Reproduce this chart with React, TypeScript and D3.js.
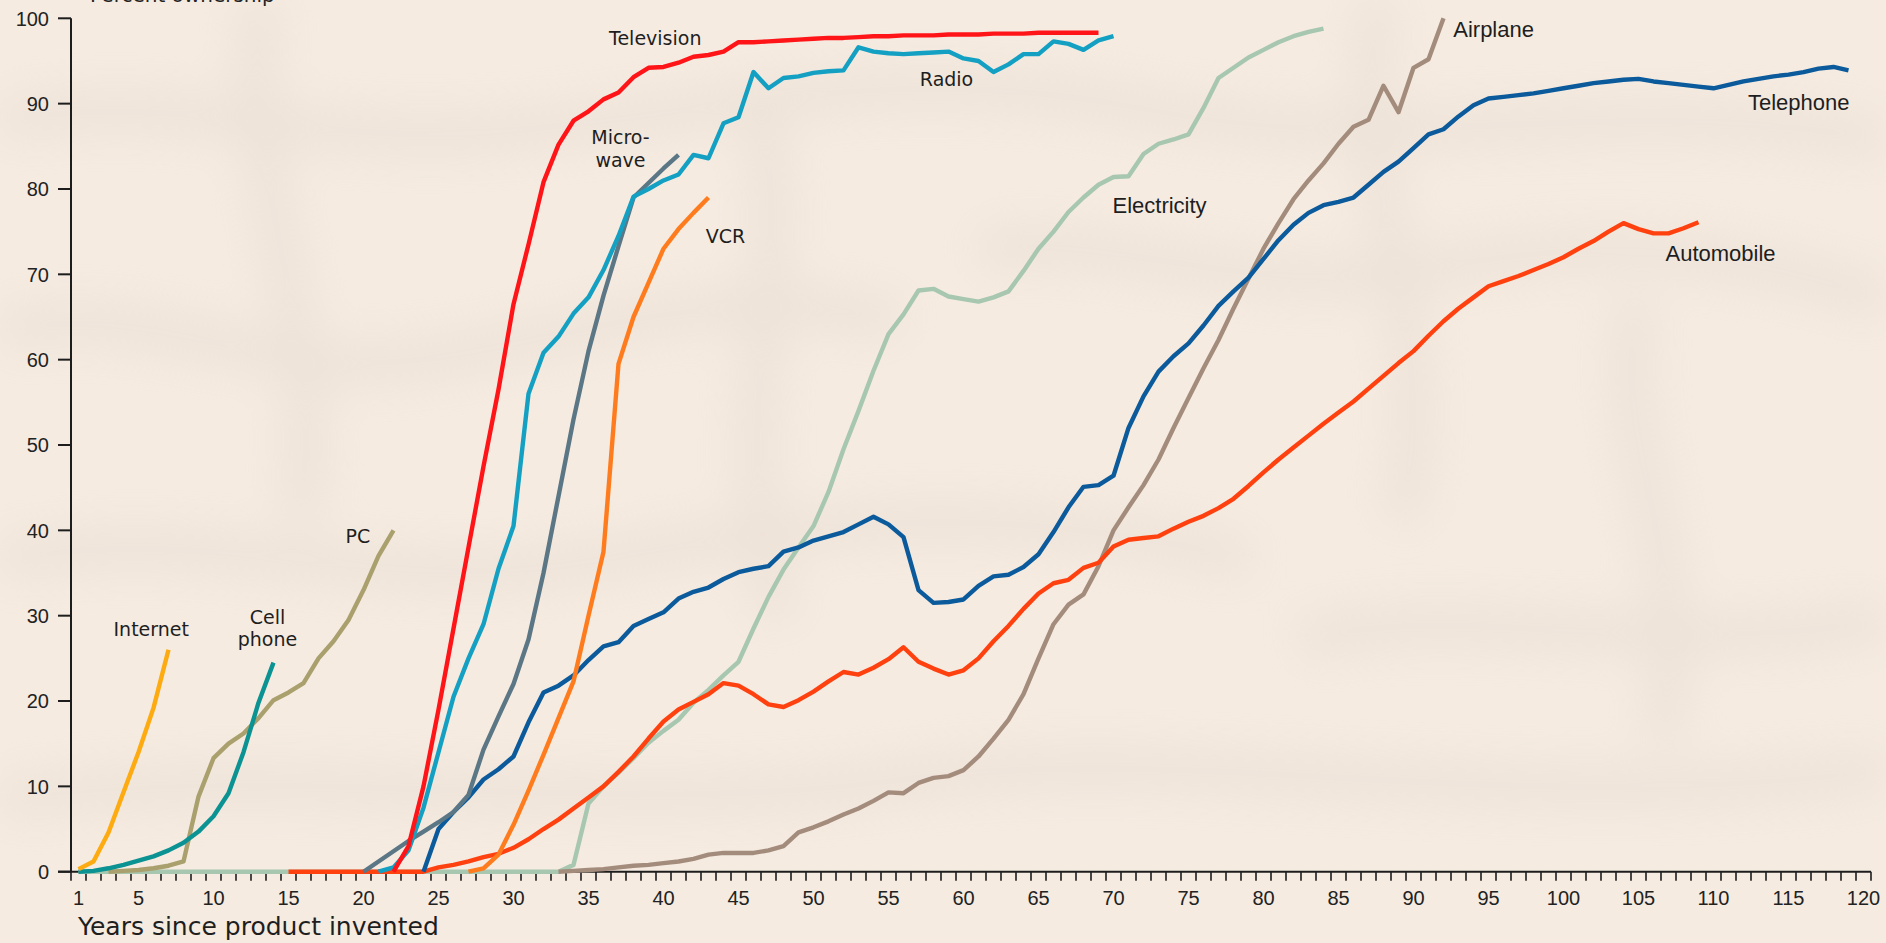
import React from 'react';
import * as d3 from 'd3';

// ---------- data (percent ownership by years since invention) ----------
const X_TICK_LABELS = [1, 5, 10, 15, 20, 25, 30, 35, 40, 45, 50, 55, 60, 65, 70, 75, 80, 85, 90, 95, 100, 105, 110, 115, 120];
const Y_TICKS = [0, 10, 20, 30, 40, 50, 60, 70, 80, 90, 100];

const INTERNET_START = 1;
const INTERNET = [0.3, 1.2, 4.6, 9.3, 14, 19.2, 26];

const CELL_START = 1;
const CELL = [0, 0.1, 0.4, 0.8, 1.3, 1.8, 2.5, 3.4, 4.7, 6.5, 9.2, 14, 19.8, 24.5];

const PC_START = 3;
const PC = [0, 0.1, 0.2, 0.4, 0.7, 1.2, 8.8, 13.3, 15, 16.2, 18, 20.1, 21, 22.1, 25, 27, 29.5, 33, 37, 40];

const TV_START = 22;
const TV = [0, 3, 10, 19, 28.5, 38, 47.5, 56.5, 66.5, 73.5, 80.8, 85.2, 88, 89.1, 90.5, 91.3, 93.1, 94.2, 94.3, 94.8,
  95.5, 95.7, 96.1, 97.2, 97.2, 97.3, 97.4, 97.5, 97.6, 97.7, 97.7, 97.8, 97.9, 97.9, 98, 98, 98, 98.1, 98.1, 98.1,
  98.2, 98.2, 98.2, 98.3, 98.3, 98.3, 98.3, 98.3];

const RADIO_START = 21;
const RADIO = [0, 0.5, 2.5, 7.5, 14, 20.5, 25, 29, 35.5, 40.5, 56, 60.8, 62.7, 65.4, 67.3, 70.5, 74.5, 79.1, 80, 81,
  81.7, 84, 83.6, 87.7, 88.4, 93.7, 91.8, 93, 93.2, 93.6, 93.8, 93.9, 96.6, 96.1, 95.9, 95.8, 95.9, 96, 96.1, 95.3,
  95, 93.7, 94.6, 95.8, 95.8, 97.3, 97, 96.3, 97.4, 97.9];

const MICROWAVE_START = 20;
const MICROWAVE = [0, 1.2, 2.4, 3.6, 4.7, 5.8, 7, 9, 14.3, 18.2, 22, 27.2, 35, 44, 53, 61, 67.5, 73.3, 79, 80.7, 82.4, 84];

const VCR_START = 27;
const VCR = [0, 0.4, 2, 5.5, 9.5, 13.7, 18, 22.3, 30, 37.5, 59.5, 65, 69, 73, 75.3, 77.2, 79];

const TELEPHONE_START = 24;
const TELEPHONE = [0, 5, 7, 8.7, 10.8, 12, 13.5, 17.5, 21, 21.8, 23, 24.8, 26.4, 26.9, 28.8, 29.6, 30.4, 32, 32.8, 33.3,
  34.3, 35.1, 35.5, 35.8, 37.5, 38, 38.8, 39.3, 39.8, 40.7, 41.6, 40.7, 39.2, 33, 31.5, 31.6, 31.9, 33.5, 34.6, 34.8,
  35.7, 37.2, 39.8, 42.7, 45.1, 45.3, 46.4, 52, 55.7, 58.6, 60.4, 61.9, 64, 66.3, 68, 69.6, 71.8, 74, 75.8, 77.2,
  78.1, 78.5, 79, 80.5, 82, 83.2, 84.8, 86.4, 87, 88.5, 89.8, 90.6, 90.8, 91, 91.2, 91.5, 91.8, 92.1, 92.4, 92.6,
  92.8, 92.9, 92.6, 92.4, 92.2, 92, 91.8, 92.2, 92.6, 92.9, 93.2, 93.4, 93.7, 94.1, 94.3, 93.9];

const ELECTRICITY_START = 1;
const ELECTRICITY = [0, 0, 0, 0, 0, 0, 0, 0, 0, 0, 0, 0, 0, 0, 0, 0, 0, 0, 0, 0, 0, 0, 0, 0, 0, 0, 0, 0, 0, 0, 0, 0, 0,
  0.8, 8, 10, 11.6, 13.3, 15.1, 16.5, 17.8, 19.8, 21.3, 23, 24.6, 28.5, 32.2, 35.4, 38, 40.5, 44.5, 49.5, 54, 58.7,
  63, 65.3, 68.1, 68.3, 67.4, 67.1, 66.8, 67.3, 68, 70.4, 73, 75, 77.3, 79, 80.5, 81.4, 81.5, 84.1, 85.3, 85.8, 86.4,
  89.5, 93, 94.2, 95.4, 96.3, 97.2, 97.9, 98.4, 98.8];

const AUTOMOBILE_START = 15;
const AUTOMOBILE = [0, 0, 0, 0, 0, 0, 0, 0, 0, 0, 0.5, 0.8, 1.2, 1.7, 2.1, 2.8, 3.8, 5, 6.1, 7.4, 8.7, 10, 11.7, 13.5,
  15.6, 17.6, 19, 19.9, 20.8, 22.1, 21.8, 20.8, 19.6, 19.3, 20.1, 21.1, 22.3, 23.4, 23.1, 23.9, 24.9, 26.3, 24.6, 23.8,
  23.1, 23.6, 25, 27, 28.8, 30.8, 32.6, 33.8, 34.2, 35.6, 36.2, 38.1, 38.9, 39.1, 39.3, 40.2, 41, 41.7, 42.6, 43.7,
  45.2, 46.8, 48.3, 49.7, 51.1, 52.5, 53.8, 55.1, 56.6, 58.1, 59.6, 61, 62.8, 64.5, 66, 67.3, 68.6, 69.2, 69.8, 70.5,
  71.2, 72, 73, 73.9, 75, 76, 75.3, 74.8, 74.8, 75.4, 76.1];

const AIRPLANE_START = 33;
const AIRPLANE = [0, 0.1, 0.2, 0.3, 0.5, 0.7, 0.8, 1, 1.2, 1.5, 2, 2.2, 2.2, 2.2, 2.5, 3, 4.6, 5.2, 5.9, 6.7, 7.4, 8.3,
  9.3, 9.2, 10.4, 11, 11.2, 11.9, 13.5, 15.6, 17.8, 20.8, 25, 29, 31.3, 32.5, 35.8, 40, 42.7, 45.3, 48.3, 52, 55.5,
  59, 62.3, 66, 69.5, 73, 76, 78.8, 81, 83, 85.3, 87.3, 88.1, 92.1, 89, 94.2, 95.2, 100];

// label anchors in data units
const LABEL_TEXT = ['Internet', 'Cell|phone', 'PC', 'Television', 'Micro-|wave', 'VCR', 'Radio', 'Electricity', 'Airplane', 'Telephone', 'Automobile'];
const LABEL_YEAR = [5.85, 13.6, 19.62, 39.45, 37.13, 44.13, 58.87, 73.07, 92.65, 119.07, 110.47];
const LABEL_VALUE = [27.6, 29.03, 38.55, 96.87, 85.27, 73.7, 92.1, 77.2, 97.8, 89.25, 71.6];

// ---------- styling ----------
const W = 1886;
const H = 943;
const COLORS: Record<string, string> = {
  electricity: '#a7c7b0',
  airplane: '#a48c7d',
  automobile: '#ff4110',
  telephone: '#0b5a9b',
  pc: '#a9a06e',
  cell: '#0b9292',
  internet: '#fdab10',
  vcr: '#ff7c1e',
  microwave: '#5b7685',
  radio: '#14a0c2',
  tv: '#ff1418',
};

const SERIES = [
  { key: 'electricity', start: ELECTRICITY_START, values: ELECTRICITY },
  { key: 'airplane', start: AIRPLANE_START, values: AIRPLANE },
  { key: 'automobile', start: AUTOMOBILE_START, values: AUTOMOBILE },
  { key: 'telephone', start: TELEPHONE_START, values: TELEPHONE },
  { key: 'pc', start: PC_START, values: PC },
  { key: 'cell', start: CELL_START, values: CELL },
  { key: 'internet', start: INTERNET_START, values: INTERNET },
  { key: 'vcr', start: VCR_START, values: VCR },
  { key: 'microwave', start: MICROWAVE_START, values: MICROWAVE },
  { key: 'radio', start: RADIO_START, values: RADIO },
  { key: 'tv', start: TV_START, values: TV },
];

// decorative blurred backdrop texture (not data)
const TEXTURE = [
  'M0,120 C200,90 300,150 520,130 S900,60 1150,110 S1600,90 1886,140',
  'M0,330 C160,300 260,380 420,360 S700,280 900,320',
  'M980,250 C1100,230 1250,300 1420,270 S1700,240 1886,300',
  'M0,560 C220,520 380,600 600,560 S1000,500 1250,560',
  'M1300,640 C1450,600 1650,660 1886,620',
  'M0,800 C300,760 600,820 900,780 S1500,820 1886,770',
  'M260,0 C240,200 330,330 300,520',
  'M760,120 C800,260 720,420 780,620',
  'M1380,0 C1340,180 1450,330 1400,520',
  'M1640,300 C1600,420 1700,560 1660,740',
];

const LEFT_FONT = '"DejaVu Sans", Verdana, sans-serif';
const ARIAL = '"Liberation Sans", Arial, Helvetica, sans-serif';

export default function App() {
  const x = d3.scaleLinear().domain([0.5, 120.5]).range([71, 1871]);
  const y = d3.scaleLinear().domain([0, 100]).range([871.7, 18.3]);

  const makePath = (start: number, values: number[]) =>
    d3
      .line<number>()
      .x((_, i) => x(start + i))
      .y((v) => y(v))(values) || '';

  const xTickPositions = d3.range(0, 121).map((k) => k + 0.5);
  const axisColor = '#1d1d1d';

  return (
    <svg
      width={W}
      height={H}
      viewBox={`0 0 ${W} ${H}`}
      style={{ position: 'absolute', left: 0, top: 0, display: 'block' }}
    >
      <defs>
        <filter id="blurTex" x="-20%" y="-20%" width="140%" height="140%">
          <feGaussianBlur stdDeviation="22" />
        </filter>
      </defs>
      <rect x={0} y={0} width={W} height={H} fill="#f5ebe1" />
      <g filter="url(#blurTex)" fill="none" stroke="#dfd2c7" strokeWidth={40} opacity={0.32}>
        {TEXTURE.map((d, i) => (
          <path key={i} d={d} />
        ))}
      </g>

      {/* title, cut at the top edge as in the original */}
      <text x={90} y={1.5} fontFamily={LEFT_FONT} fontSize={20} fill="#222">
        Percent ownership
      </text>

      {/* y axis */}
      <line x1={x(0.5)} x2={x(0.5)} y1={y(0)} y2={y(100)} stroke={axisColor} strokeWidth={2} />
      {Y_TICKS.map((t) => (
        <g key={t}>
          <line x1={58} x2={x(0.5)} y1={y(t)} y2={y(t)} stroke={axisColor} strokeWidth={2} />
          <text x={49} y={y(t) + 7.2} textAnchor="end" fontFamily={ARIAL} fontSize={20} fill="#222">
            {t}
          </text>
        </g>
      ))}

      {/* x axis */}
      <line x1={58} x2={x(120.5)} y1={y(0)} y2={y(0)} stroke={axisColor} strokeWidth={2} />
      {xTickPositions.map((t) => (
        <line key={t} x1={x(t)} x2={x(t)} y1={y(0)} y2={y(0) + 9} stroke={axisColor} strokeWidth={1.6} />
      ))}
      {X_TICK_LABELS.map((t) => (
        <text key={t} x={x(t)} y={905} textAnchor="middle" fontFamily={ARIAL} fontSize={20} fill="#222">
          {t}
        </text>
      ))}
      <text x={78} y={935} fontFamily={LEFT_FONT} fontSize={25} fill="#1e1e1e">
        Years since product invented
      </text>

      {/* series */}
      <g fill="none" strokeWidth={4.4} strokeLinejoin="round" strokeLinecap="butt">
        {SERIES.map((s) => (
          <path key={s.key} d={makePath(s.start, s.values)} stroke={COLORS[s.key]} />
        ))}
      </g>

      {/* labels */}
      {LABEL_TEXT.map((t, i) => {
        const lines = t.split('|');
        const right = i >= 7;
        const anchor = i === 8 ? 'start' : i === 9 ? 'end' : 'middle';
        return (
          <text
            key={t}
            x={x(LABEL_YEAR[i])}
            y={y(LABEL_VALUE[i])}
            textAnchor={anchor}
            fontFamily={right ? ARIAL : LEFT_FONT}
            fontSize={right ? 22 : 19}
            fill="#1e1e1e"
          >
            {lines.map((l, j) => (
              <tspan key={j} x={x(LABEL_YEAR[i])} dy={j === 0 ? 0 : 22.5}>
                {l}
              </tspan>
            ))}
          </text>
        );
      })}
    </svg>
  );
}
